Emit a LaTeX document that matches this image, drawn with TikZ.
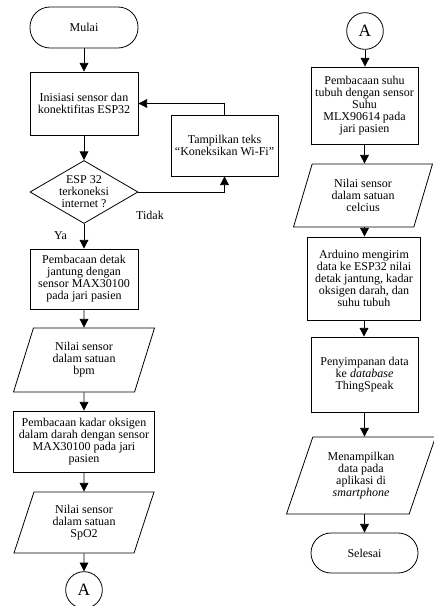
\documentclass[tikz,border=0pt]{standalone}
\usepackage{fontspec}
\setmainfont{Liberation Serif}
\usetikzlibrary{shapes.geometric,arrows.meta}

\begin{document}
\begin{tikzpicture}[x=0.75pt,y=-0.75pt,
	base/.style={draw,line width=0.6pt,align=center,inner sep=1pt,font=\fontsize{9}{9}\selectfont},
	terminal/.style={base,rectangle,rounded corners=15pt},
	process/.style={base,rectangle},
	decision/.style={base,diamond,aspect=1.7,inner sep=0pt},
	io/.style={base,trapezium,trapezium left angle=62,trapezium right angle=118,trapezium stretches body},
	conn/.style={base,circle,minimum size=27.5pt,font=\fontsize{13}{13}\selectfont},
	flow/.style={line width=0.6pt,-{Triangle[length=6.5pt,width=6.5pt]}}]
	\useasboundingbox (0,0) rectangle (433,606);
	% left column
	\node [terminal,minimum width=81pt,minimum height=30.75pt] (mulai) at (84,27.5) {Mulai};
	\node [process,minimum width=81pt,minimum height=47.25pt] (init) at (84,103.5) {Inisiasi sensor dan\\konektifitas ESP32};
	\node [decision,minimum width=81pt,minimum height=47.25pt] (cek) at (84,192) {ESP 32\\terkoneksi\\internet ?};
	\node [process,minimum width=80.25pt,minimum height=45.75pt] (wifi) at (224.5,145.5) {Tampilkan teks\\“Koneksikan Wi-Fi”};
	\node [base,draw=none] (tidak) at (150,215) {Tidak};
	\node [base,draw=none] (ya) at (60.5,236) {Ya};
	\node [process,minimum width=81pt,minimum height=45pt] (detak) at (84,279) {Pembacaan detak\\jantung dengan\\sensor MAX30100\\pada jari pasien};
	\node [io,minimum width=105.75pt,minimum height=48pt] (bpm) at (84,360) {Nilai sensor\\dalam satuan\\bpm};
	\node [process,minimum width=105.75pt,minimum height=45.75pt] (kadar) at (84,441.5) {Pembacaan kadar oksigen\\dalam darah dengan sensor\\MAX30100 pada jari\\pasien};
	\node [io,minimum width=105pt,minimum height=45.75pt] (spo) at (84,522.5) {Nilai sensor\\dalam satuan\\SpO2};
	\node [conn] (konA) at (84,590) {A};
	% right column
	\node [conn] (konB) at (365,31) {A};
	\node [process,minimum width=80.25pt,minimum height=57.75pt] (suhu) at (364.5,105.5) {Pembacaan suhu\\tubuh dengan sensor\\Suhu\\MLX90614 pada\\jari pasien};
	\node [io,minimum width=104.25pt,minimum height=47.25pt] (celcius) at (363,195.5) {Nilai sensor\\dalam satuan\\celcius};
	\node [process,minimum width=84.75pt,minimum height=62.25pt] (kirim) at (364,278.5) {Arduino mengirim\\data ke ESP32 nilai\\detak jantung, kadar\\oksigen darah, dan\\suhu tubuh};
	\node [process,minimum width=80.25pt,minimum height=56.25pt] (simpan) at (364.5,374.5) {Penyimpanan data\\ke \textit{database}\\ThingSpeak};
	\node [io,minimum width=111.75pt,minimum height=57.75pt] (tampil) at (361,475.5) {Menampilkan\\data pada\\aplikasi di\\\textit{smartphone}};
	\node [terminal,minimum width=80.25pt,minimum height=30pt] (selesai) at (364.5,553) {Selesai};
	% arrows
	\draw [flow] (mulai) -- (init);
	\draw [flow] (init) -- (cek);
	\draw [flow] (cek) -- (detak);
	\draw [flow] (cek.east) -| (wifi.south);
	\draw [flow] (wifi.north) |- (init.east);
	\draw [flow] (detak) -- (bpm);
	\draw [flow] (bpm) -- (kadar);
	\draw [flow] (kadar) -- (spo);
	\draw [flow] (spo) -- (konA);
	\draw [flow] (konB) -- (konB |- suhu.north);
	\draw [flow] (suhu.south) -- (suhu.south |- celcius.north);
	\draw [flow] (suhu.south |- celcius.south) -- (suhu.south |- kirim.north);
	\draw [flow] (kirim.south) -- (kirim.south |- simpan.north);
	\draw [flow] (simpan.south) -- (simpan.south |- tampil.north);
	\draw [flow] (simpan.south |- tampil.south) -- (simpan.south |- selesai.north);
\end{tikzpicture}
\end{document}
